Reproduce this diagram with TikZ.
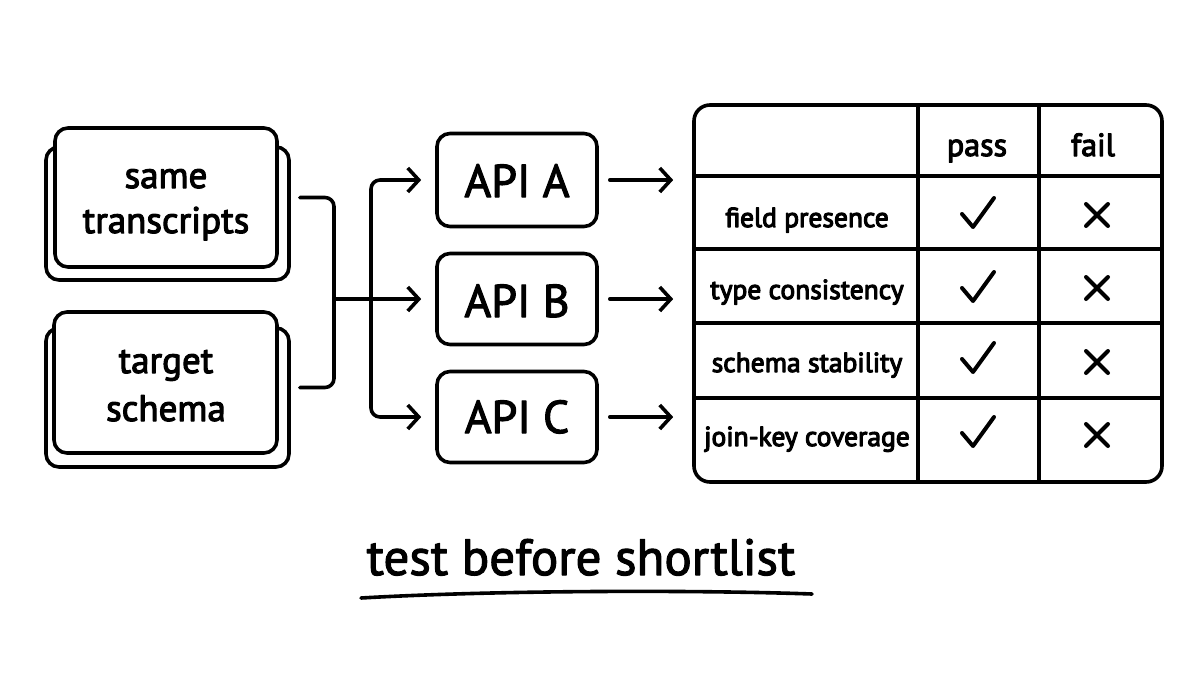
\documentclass[tikz,border=0pt]{standalone}
\usepackage{fontspec}
\setmainfont{PT Sans}
\usetikzlibrary{arrows.meta,calc}
\newcommand{\hw}[1]{\special{pdf:literal direct 2 Tr 1.1 w}#1\special{pdf:literal direct 0 Tr}}
\begin{document}
\begin{tikzpicture}[x=1pt,y=-1pt,line width=3.6pt,line cap=round,line join=round,
  box/.style={draw,rounded corners=13pt,fill=white,inner sep=0pt,align=center},
  lbl/.style={inner sep=0pt,anchor=base},
  arr/.style={-{Straight Barb[length=11pt,width=24pt]}},
  dotpt/.style={inner sep=0pt,minimum size=1pt}]
\useasboundingbox (0,0) rectangle (1200,675);
\fill[white] (0,0) rectangle (1200,675);
% stacked input boxes
\node[box,minimum width=243pt,minimum height=133pt] (b1back) at (167.5,213.5) {};
\node[box,minimum width=222pt,minimum height=139pt] (b1) at (166,197.5) {};
\node[box,minimum width=243pt,minimum height=139pt] (b2back) at (167.5,397.5) {};
\node[box,minimum width=223pt,minimum height=141pt] (b2) at (165.5,382.5) {};
\begin{scope}[every node/.style={lbl,font=\fontsize{37}{40}\selectfont}]
\node (t1a) at (166,188) {\hw{same}};
\node (t1b) at (166,233) {\hw{transcripts}};
\node (t2a) at (166,373) {\hw{target}};
\node (t2b) at (166,421) {\hw{schema}};
\end{scope}
% API boxes
\node[box,minimum width=160pt,minimum height=93pt] (apiA) at (517,180) {};
\node[box,minimum width=160pt,minimum height=91pt] (apiB) at (517,299) {};
\node[box,minimum width=160pt,minimum height=91pt] (apiC) at (517,417) {};
\begin{scope}[every node/.style={lbl,font=\fontsize{46}{48}\selectfont}]
\node (tA) at (517,197) {\hw{API A}};
\node (tB) at (517,317) {\hw{API B}};
\node (tC) at (517,433) {\hw{API C}};
\end{scope}
% table
\node[draw,rounded corners=16pt,inner sep=0pt,minimum width=468pt,minimum height=377pt] (tbl) at (928,293.5) {};
\draw[line width=3.2pt] (918,105) -- (918,482) (1039,105) -- (1039,482);
\foreach \yy in {176,249,323,398} \draw[line width=3.2pt] (694,\yy) -- (1162,\yy);
\node[lbl,font=\fontsize{32}{34}\selectfont] (hpass) at (977,156) {\hw{pass}};
\node[lbl,font=\fontsize{32}{34}\selectfont] (hfail) at (1093,156) {\hw{fail}};
\foreach \n/\t/\yy/\cy/\xy in {1/field presence/227/213/215,2/type consistency/299/287/288,3/schema stability/372/358/362,4/join-key coverage/446/432/435}{
  \node[lbl,font=\fontsize{27.5}{32}\selectfont] (r\n) at (807,\yy) {\hw{\t}};
  \node[dotpt] (ck\n) at (977,\cy) {};
  \draw[line width=4pt] ($(ck\n)+(-15,1)$) -- ++(11,13) -- ++(21,-29);
  \node[dotpt] (x\n) at (1097,\xy) {};
  \draw[line width=4pt] ($(x\n)+(-11,-11)$) -- ++(22,22);
  \draw[line width=4pt] ($(x\n)+(11,-11)$) -- ++(-22,22);
}
% connectors
\coordinate (s1) at ($(b1back.east |- b1.east)+(9,0)$);
\coordinate (s2) at ($(b2back.east |- b2.east)+(9,5)$);
\coordinate (merge) at (334,299);
\coordinate (bus) at (371,299);
\draw[rounded corners=9pt] (s1) -| (merge) |- (s2);
\draw[arr] (merge) -- ($(apiB.west)+(-14,0)$);
\draw[arr,rounded corners=9pt] (bus) |- ($(apiA.west)+(-14,0)$);
\draw[arr,rounded corners=9pt] (bus) |- ($(apiC.west)+(-14,0)$);
\draw[arr] ($(apiA.east)+(11,0)$) -- ($(apiA.east -| tbl.west)+(-19,0)$);
\draw[arr] ($(apiB.east)+(11,0)$) -- ($(apiB.east -| tbl.west)+(-19,0)$);
\draw[arr] ($(apiC.east)+(11,0)$) -- ($(apiC.east -| tbl.west)+(-19,0)$);
% title
\node[lbl,font=\fontsize{51}{56}\selectfont] (title) at (581,575) {\hw{test before shortlist}};
\coordinate (u1) at (361,598);
\coordinate (u2) at (812,594);
\draw (u1) .. controls (500,590) and (700,590) .. (u2);
\end{tikzpicture}
\end{document}
